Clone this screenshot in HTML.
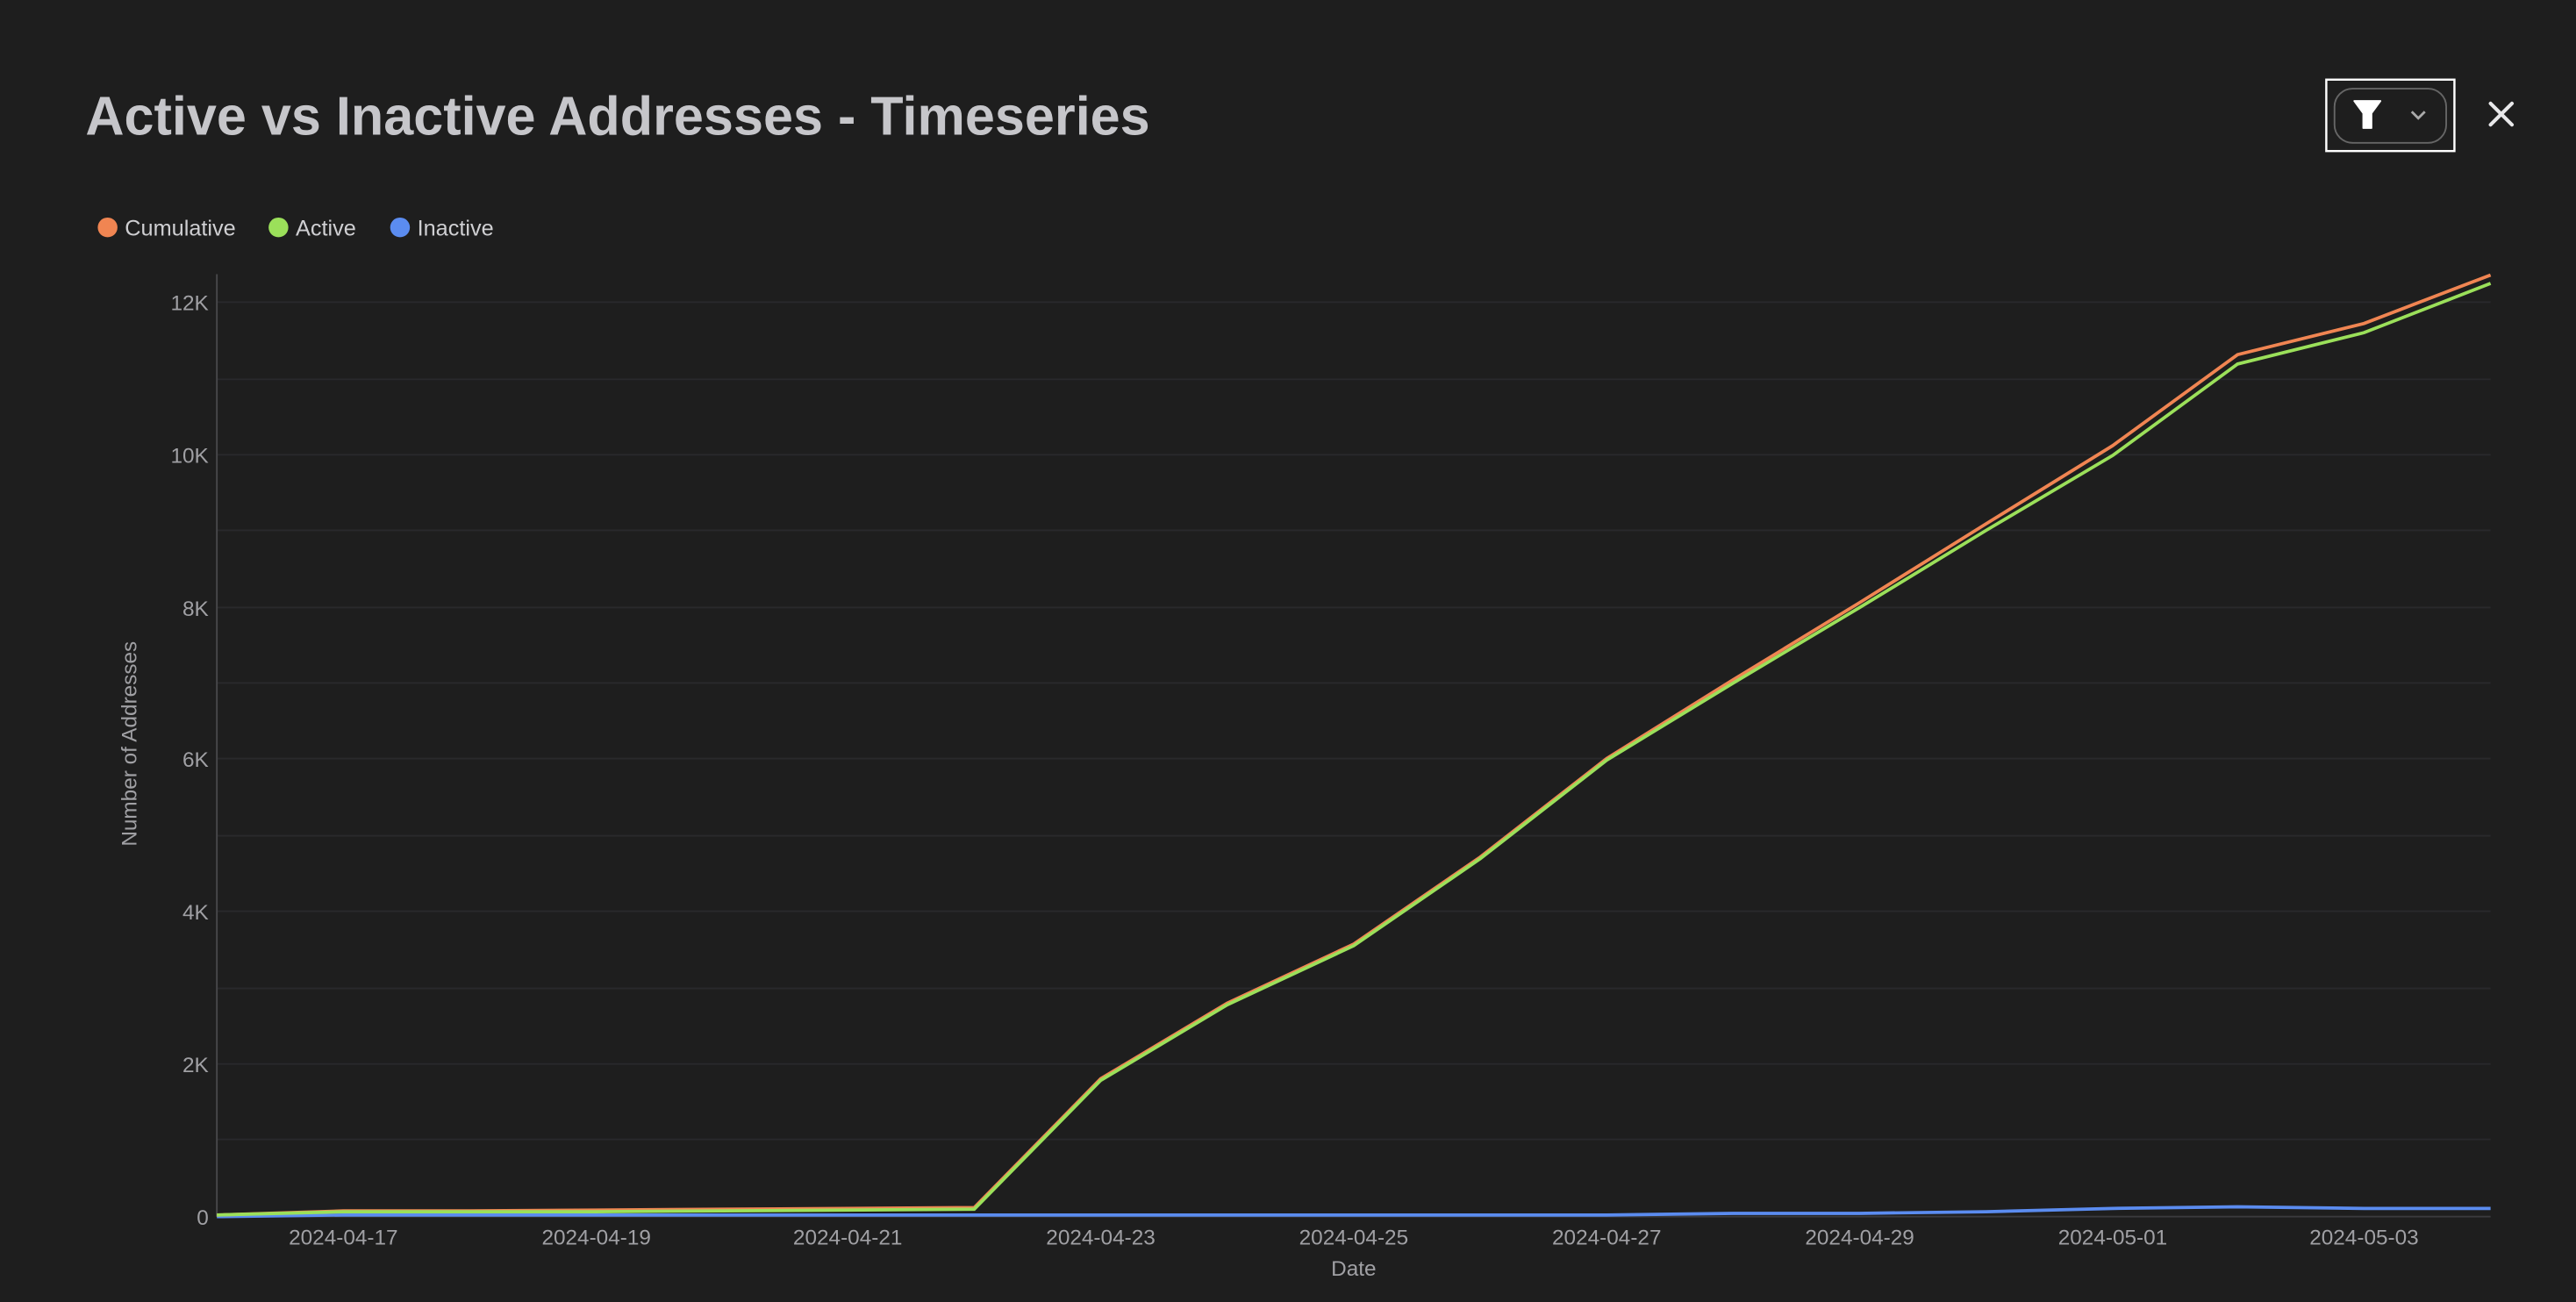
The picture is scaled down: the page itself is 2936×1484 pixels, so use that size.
<!DOCTYPE html>
<html><head><meta charset="utf-8"><style>
html,body{margin:0;padding:0;background:#1e1e1e;}
svg{display:block;}
text{font-family:"Liberation Sans",sans-serif;}
</style></head><body>
<svg width="2936" height="1484" viewBox="0 0 1568 793" preserveAspectRatio="none" xmlns="http://www.w3.org/2000/svg">
<rect width="1568" height="793" fill="#1e1e1e"/>
<text x="52" y="82" font-size="33" font-weight="bold" fill="#c6c6ca" textLength="648" lengthAdjust="spacingAndGlyphs">Active vs Inactive Addresses - Timeseries</text>
<rect x="1416" y="48.5" width="78" height="43.5" fill="none" stroke="#ffffff" stroke-width="1.3"/>
<rect x="1421" y="54" width="68" height="33" rx="11" fill="none" stroke="#666" stroke-width="1"/>
<path d="M1433 61.5 H1449 L1443.5 69 V78 H1438.5 V69 Z" fill="#fff" stroke="#fff" stroke-width="1" stroke-linejoin="round"/>
<path d="M1468 68 L1472 72 L1476 68" fill="none" stroke="#aaa" stroke-width="1.5"/>
<path d="M1516 63 L1529 76 M1529 63 L1516 76" stroke="#e8e8ea" stroke-width="2.2" stroke-linecap="round"/>
<circle cx="65.5" cy="138.5" r="6" fill="#f08552"/>
<text x="76" y="143.5" font-size="13.5" fill="#cfcfd2">Cumulative</text>
<circle cx="169.5" cy="138.5" r="6" fill="#9be05a"/>
<text x="180" y="143.5" font-size="13.5" fill="#cfcfd2">Active</text>
<circle cx="243.5" cy="138.5" r="6" fill="#5b8cf0"/>
<text x="254" y="143.5" font-size="13.5" fill="#cfcfd2">Inactive</text>
<g stroke="#29292c" stroke-width="1">
<line x1="132" x2="1516" y1="184" y2="184"/><line x1="132" x2="1516" y1="231" y2="231"/>
<line x1="132" x2="1516" y1="277" y2="277"/><line x1="132" x2="1516" y1="323" y2="323"/>
<line x1="132" x2="1516" y1="370" y2="370"/><line x1="132" x2="1516" y1="416" y2="416"/>
<line x1="132" x2="1516" y1="462" y2="462"/><line x1="132" x2="1516" y1="509" y2="509"/>
<line x1="132" x2="1516" y1="555" y2="555"/><line x1="132" x2="1516" y1="602" y2="602"/>
<line x1="132" x2="1516" y1="648" y2="648"/><line x1="132" x2="1516" y1="694" y2="694"/>
</g>
<line x1="132" x2="132" y1="167" y2="741" stroke="#48484b" stroke-width="1"/>
<line x1="132" x2="1516" y1="741" y2="741" stroke="#3a3a3d" stroke-width="1"/>
<g font-size="13" fill="#a0a0a4" text-anchor="end">
<text x="127" y="189">12K</text><text x="127" y="282">10K</text><text x="127" y="375">8K</text>
<text x="127" y="467">6K</text><text x="127" y="560">4K</text><text x="127" y="653">2K</text><text x="127" y="746">0</text>
</g>
<g font-size="13" fill="#a0a0a4" text-anchor="middle">
<text x="209" y="758">2024-04-17</text><text x="363" y="758">2024-04-19</text><text x="516" y="758">2024-04-21</text>
<text x="670" y="758">2024-04-23</text><text x="824" y="758">2024-04-25</text><text x="978" y="758">2024-04-27</text>
<text x="1132" y="758">2024-04-29</text><text x="1286" y="758">2024-05-01</text><text x="1439" y="758">2024-05-03</text>
<text x="824" y="777">Date</text>
</g>
<text transform="translate(83,453) rotate(-90)" font-size="13" fill="#a0a0a4" text-anchor="middle">Number of Addresses</text>
<polyline fill="none" stroke="#5b8cf0" stroke-width="2" points="132,741 209,740 286,740 363,740 440,740 516,740 593,740 670,740 747,740 824,740 901,740 978,740 1055,739 1132,739 1209,738 1286,736 1362,735 1439,736 1516,736"/>
<polyline fill="none" stroke="#f08552" stroke-width="2" points="132,740 209,737.5 286,737.5 363,737 440,736.5 516,736 593,735.5 670,657 747,611 824,575 901,522 978,462 1055,414 1132,367 1209,319 1286,271.4 1362,216 1439,197 1516,167.5"/>
<polyline fill="none" stroke="#9be05a" stroke-width="2" points="132,740 209,738 286,738 363,738 440,737.5 516,737 593,736.5 670,658 747,612 824,576 901,523 978,463 1055,416 1132,370 1209,323 1286,277.4 1362,221.7 1439,202.6 1516,172.6"/>
</svg>
</body></html>
